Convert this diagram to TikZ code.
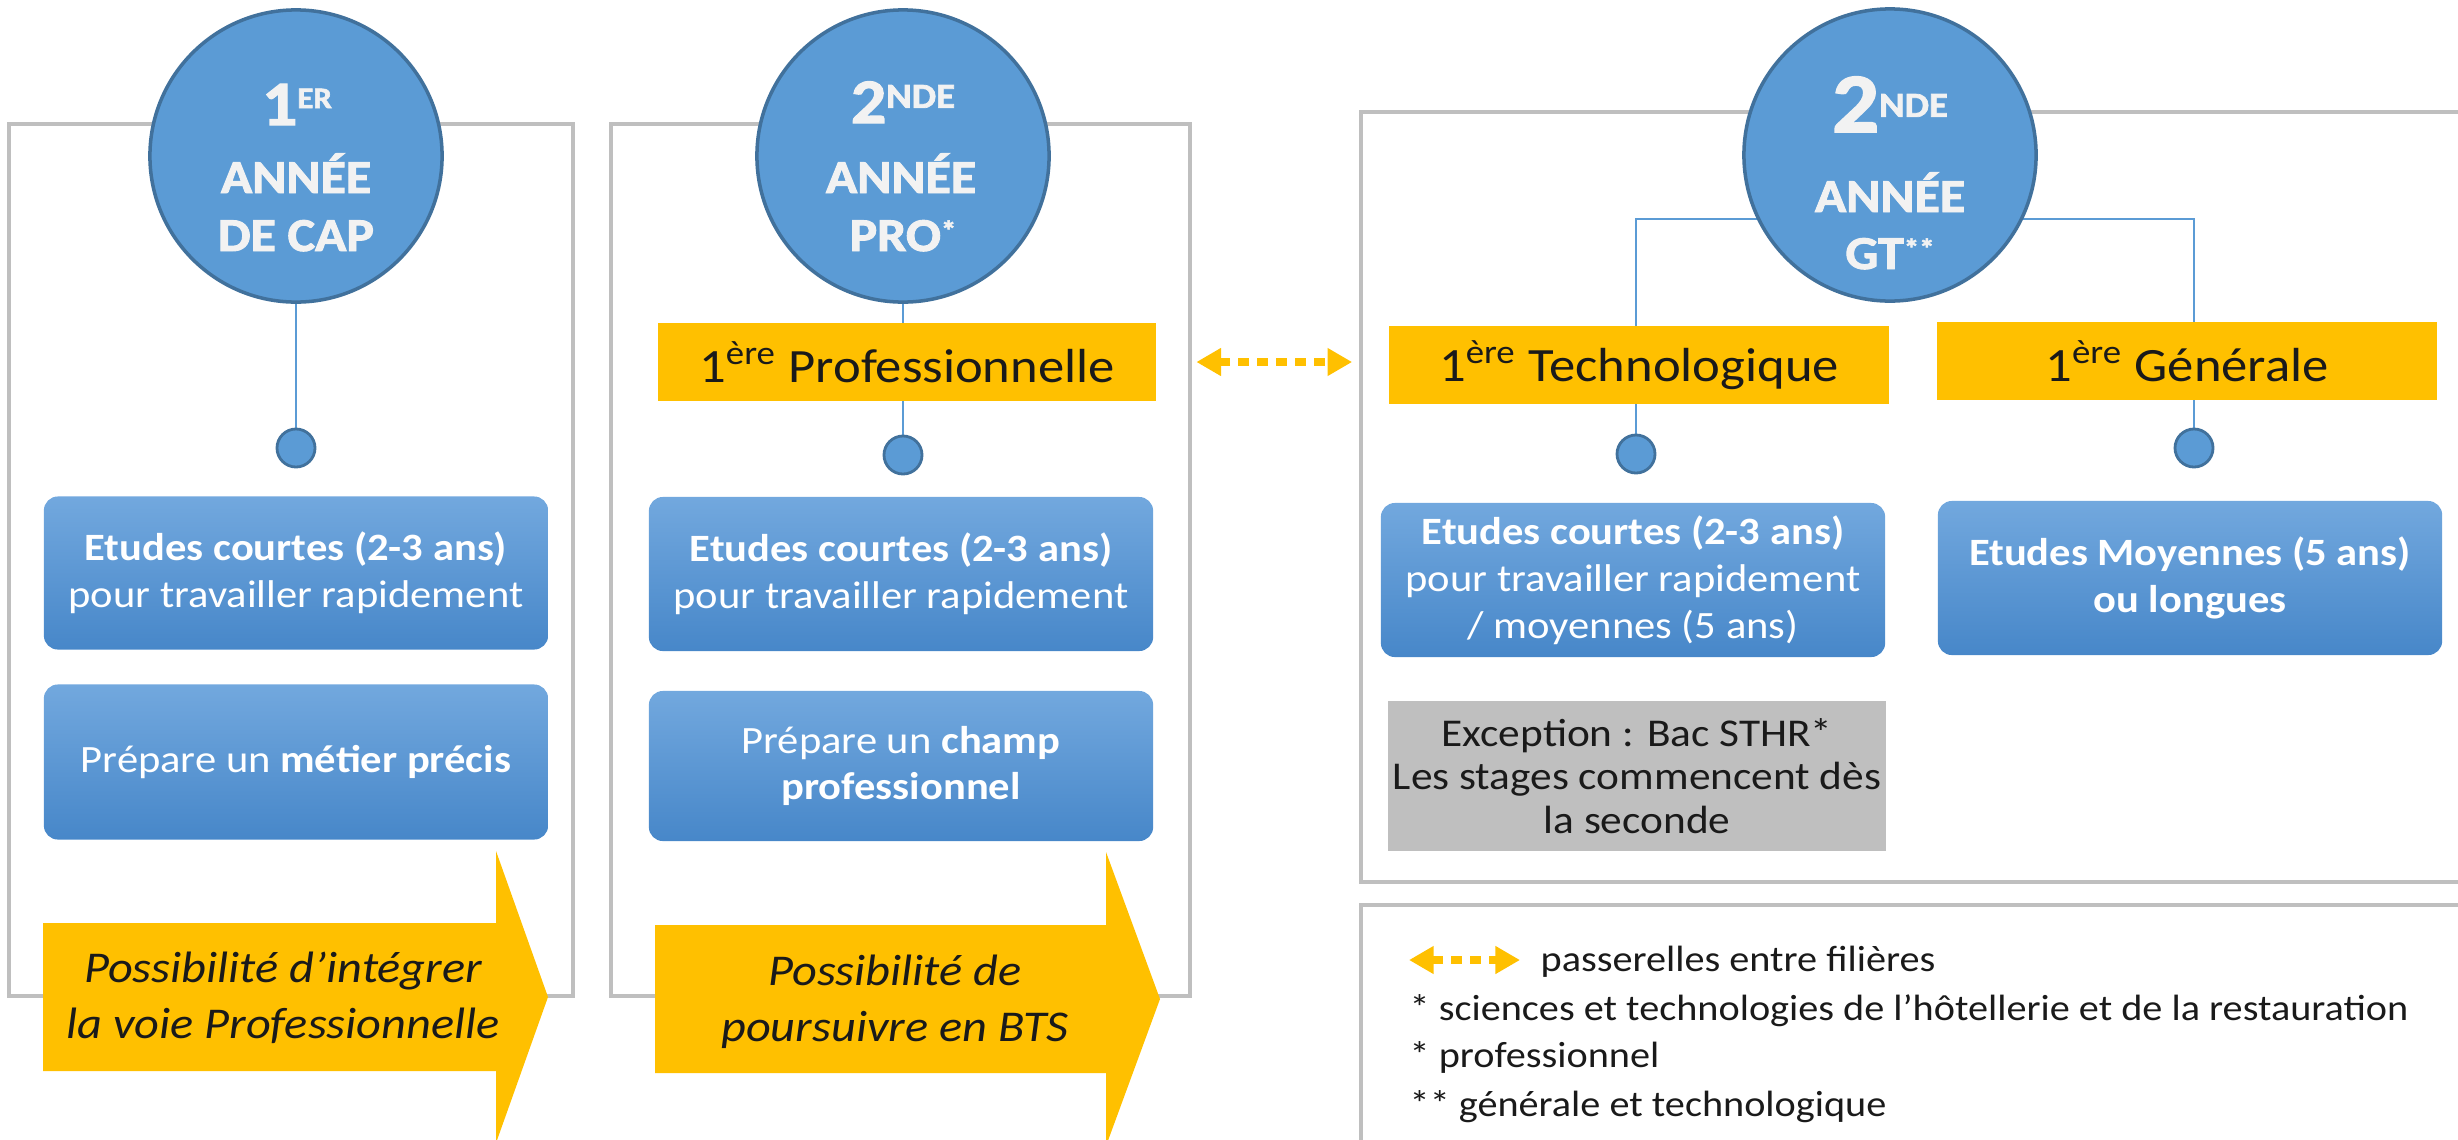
\documentclass[tikz,border=0pt]{standalone}
\usepackage{fontspec}
\setmainfont{Carlito}[FakeStretch=1.1]
\newfontfamily\heavyfont{Carlito}[FakeStretch=1.1,BoldFeatures={FakeBold=2}]
\usetikzlibrary{arrows.meta,backgrounds}
\definecolor{cblue}{HTML}{5B9BD5}
\definecolor{cedge}{HTML}{41719C}
\definecolor{orangeY}{HTML}{FFC000}
\definecolor{panelgray}{HTML}{BFBFBF}
\definecolor{boxgray}{HTML}{BFBFBF}
\definecolor{btop}{HTML}{72A8DE}
\definecolor{bbot}{HTML}{4787C9}
\definecolor{ctxt}{HTML}{F2F2F2}
\definecolor{dtxt}{HTML}{1A1A1A}
\begin{document}
\begin{tikzpicture}[x=0.01cm,y=-0.01cm,
  panel/.style={draw=panelgray,line width=1pt},
  bigc/.style={circle,fill=cblue,draw=cedge,line width=1pt,minimum size=2.92cm,inner sep=0pt},
  dot/.style={circle,fill=cblue,draw=cedge,line width=0.8pt,minimum size=0.38cm,inner sep=0pt},
  conn/.style={draw=cblue,line width=0.6pt},
  obox/.style={fill=orangeY,minimum height=0.78cm,inner sep=0pt,text=dtxt,font=\fontsize{13.6}{16}\selectfont},
  bbox/.style={rounded corners=4pt,top color=btop,bottom color=bbot,inner sep=0pt,text=white,align=center,minimum width=5.04cm,font=\fontsize{11}{13.3}\selectfont},
  gbox/.style={fill=boxgray,inner sep=0pt,align=center,text=dtxt,font=\fontsize{11.2}{12.4}\selectfont},
  ctext/.style={anchor=base,inner sep=0pt,text=ctxt,font=\heavyfont\bfseries\fontsize{13.4}{17}\selectfont},
  atext/.style={align=center,inner sep=0pt,text=dtxt,font=\itshape\fontsize{12.5}{16}\selectfont},
  legtext/.style={anchor=base west,inner sep=0pt,text=dtxt,font=\fontsize{10.4}{12}\selectfont},
  pass/.style={draw=orangeY,line width=2.2pt,dash pattern=on 3pt off 2.4pt,{Triangle[length=7pt,width=7.5pt]}-{Triangle[length=7pt,width=7.5pt]}}
]
\useasboundingbox (0,0) rectangle (2458,1139);

% panels
\draw[panel] (9,124) rectangle (573,996);
\draw[panel] (611,124) rectangle (1190,996);
\draw[panel] (2470,112) -- (1361,112) -- (1361,882) -- (2470,882);
\draw[panel] (2470,905) -- (1361,905) -- (1361,1150);

% big circles
\node[bigc] (c1) at (296,156) {};
\node[bigc] (c2) at (903,156) {};
\node[bigc] (c3) at (1890,155) {};

\node[ctext] (c1a) at (297,125) {{\fontsize{18}{20}\selectfont 1}\raisebox{4.8pt}{\fontsize{8.5}{10}\selectfont ER}};
\node[ctext] (c1b) at (296,193) {ANNÉE};
\node[ctext] (c1c) at (296,251) {DE CAP};

\node[ctext] (c2a) at (903,123) {{\fontsize{18}{20}\selectfont 2}\raisebox{4.3pt}{\fontsize{10}{10}\selectfont NDE}};
\node[ctext] (c2b) at (901,193) {ANNÉE};
\node[ctext] (c2c) at (903,251) {PRO\raisebox{3pt}{\fontsize{8}{8}\selectfont *}};

\node[ctext] (c3a) at (1890,132) {{\fontsize{24}{26}\selectfont 2}\raisebox{4.3pt}{\fontsize{10}{10}\selectfont NDE}};
\node[ctext] (c3b) at (1890,212) {ANNÉE};
\node[ctext] (c3c) at (1890,269) {GT\raisebox{3pt}{\fontsize{8}{8}\selectfont **}};

% small dots
\node[dot] (d1) at (296,448) {};
\node[dot] (d2) at (903,455) {};
\node[dot] (d3) at (1636,454) {};
\node[dot] (d4) at (2194,448) {};

% orange headers
\node[obox,minimum width=4.97cm] (o1) at (907,362) {1\textsuperscript{ère} Professionnelle};
\node[obox,minimum width=5cm] (o2) at (1639,365) {1\textsuperscript{ère} Technologique};
\node[obox,minimum width=5cm] (o3) at (2187,361) {1\textsuperscript{ère} Générale};

% connectors (behind)
\coordinate (bl) at (1636,219);
\coordinate (br) at (2194,219);
\begin{scope}[on background layer]
\draw[conn] (c1) -- (d1);
\draw[conn] (c2) -- (d2);
\draw[conn] (d3) -- (bl) -- (br) -- (d4);
\end{scope}

% blue boxes
\node[bbox,minimum height=1.53cm] (b1) at (296,573) {\textbf{Etudes courtes (2-3 ans)}\\pour travailler rapidement};
\node[bbox,minimum height=1.55cm] (b2) at (296,762) {Prépare un \textbf{métier précis}};
\node[bbox,minimum height=1.54cm] (b3) at (901,574) {\textbf{Etudes courtes (2-3 ans)}\\pour travailler rapidement};
\node[bbox,minimum height=1.50cm] (b4) at (901,766) {Prépare un \textbf{champ}\\\textbf{professionnel}};
\node[bbox,minimum height=1.54cm] (b5) at (1633,580) {\textbf{Etudes courtes (2-3 ans)}\\pour travailler rapidement\\/ moyennes (5 ans)};
\node[bbox,minimum height=1.54cm] (b6) at (2190,578) {\textbf{Etudes Moyennes (5 ans)}\\\textbf{ou longues}};
\node[gbox,minimum width=4.97cm,minimum height=1.5cm] (g1) at (1637,776) {Exception : Bac STHR*\\Les stages commencent dès\\la seconde};

% big arrows
\fill[orangeY] (43,923) -- (496,923) -- (496,851) -- (548,997) -- (496,1143) -- (496,1071) -- (43,1071) -- cycle;
\node[atext] (a1) at (283,998) {Possibilité d’intégrer\\la voie Professionnelle};
\fill[orangeY] (655,925) -- (1106,925) -- (1106,852) -- (1160,999) -- (1106,1146) -- (1106,1073) -- (655,1073) -- cycle;
\node[atext] (a2) at (895,1002) {Possibilité de\\poursuivre en BTS};

% passerelle
\draw[pass,shorten <=0.4cm,shorten >=0.36cm] (o1.east) -- (o1.east -| o2.west);

% legend
\coordinate (la) at (1409,960);
\coordinate (lb) at (1520,960);
\draw[pass] (la) -- (lb);
\node[legtext] (l1) at (1540,971) {passerelles entre filières};
\node[legtext] (l2) at (1409,1020) {* sciences et technologies de l’hôtellerie et de la restauration};
\node[legtext] (l3) at (1409,1067) {* professionnel};
\node[legtext] (l4) at (1409,1116) {** générale et technologique};
\end{tikzpicture}
\end{document}
